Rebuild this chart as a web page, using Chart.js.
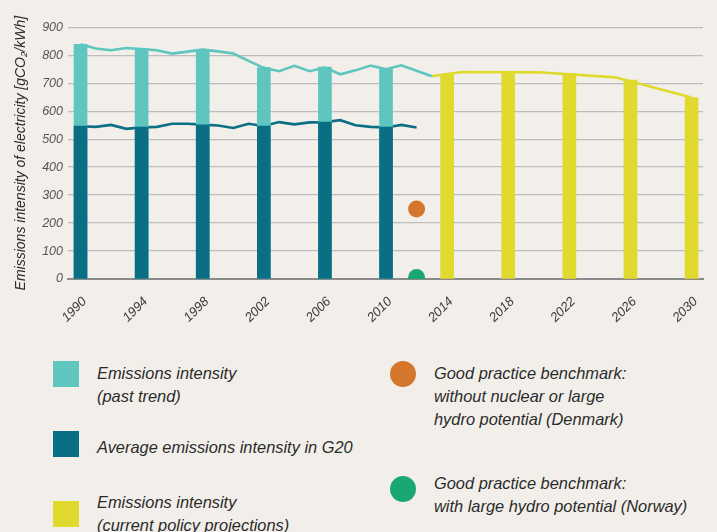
<!DOCTYPE html>
<html>
<head>
<meta charset="utf-8">
<script src="https://cdn.jsdelivr.net/npm/chart.js@4/dist/chart.umd.min.js"></script>
<style>
  html, body { margin: 0; padding: 0; background: #f2efea; width: 717px; height: 532px; overflow: hidden; }
  #wrap { position: relative; width: 717px; height: 532px; }
  #c { position: absolute; left: 0; top: 0; }
  .sw { position: absolute; width: 26px; height: 26px; }
  .dot { position: absolute; width: 26px; height: 26px; border-radius: 50%; }
  .lt { position: absolute; font-family: "Liberation Sans", Arial, sans-serif; font-style: italic; font-size: 16.4px; line-height: 22.7px; color: #2b2b2b; white-space: nowrap; }
</style>
</head>
<body>
<div id="wrap">
  <canvas id="c" width="717" height="340"></canvas>
  <div class="sw" style="left:53px;top:361px;background:#5ec5bf"></div>
  <div class="lt" style="left:97px;top:362px">Emissions intensity<br>(past trend)</div>
  <div class="sw" style="left:53px;top:431px;background:#0a6f84"></div>
  <div class="lt" style="left:97px;top:435.7px">Average emissions intensity in G20</div>
  <div class="sw" style="left:53px;top:501px;background:#e0d92e"></div>
  <div class="lt" style="left:97px;top:491.3px">Emissions intensity<br>(current policy projections)</div>
  <div class="dot" style="left:390px;top:361px;background:#d5762d"></div>
  <div class="lt" style="left:434px;top:362.3px">Good practice benchmark:<br>without nuclear or large<br>hydro potential (Denmark)</div>
  <div class="dot" style="left:390px;top:476px;background:#19a873"></div>
  <div class="lt" style="left:434px;top:472.3px">Good practice benchmark:<br>with large hydro potential (Norway)</div>
</div>
<script>
// ---- data ----
const pastYears = [1990,1991,1992,1993,1994,1995,1996,1997,1998,1999,2000,2001,2002,2003,2004,2005,2006,2007,2008,2009,2010,2011,2013];
const pastTrend = [839,824,818,826,822,818,806,813,820,814,806,780,755,743,762,743,756,732,746,763,750,764,725];
const g20Years = [1990,1991,1992,1993,1994,1995,1996,1997,1998,1999,2000,2001,2002,2003,2004,2005,2006,2007,2008,2009,2010,2011,2012];
const g20Avg = [546,544,551,537,542,544,555,555,552,549,540,555,547,561,553,560,561,568,550,544,542,551,542];
const projYears = [2013,2014,2015,2020,2025,2030];
const projTrend = [725,733,740,739,721,649];
const pastBarYears = [1990,1994,1998,2002,2006,2010];
const pastBarValues = [839,823,821,756,758,750];
const g20BarValues = [547,543,551,547,561,543];
const projBarYears = [2014,2018,2022,2026,2030];
const projBarValues = [731,740,735,711,649];
const benchYear = 2012;
const denmark = 250;
const norway = 5;
const xTickYears = [1990,1994,1998,2002,2006,2010,2014,2018,2022,2026,2030];
const yTicks = [0,100,200,300,400,500,600,700,800,900];

const C_LIGHT = '#5ec5bf', C_DARK = '#0a6f84', C_YEL = '#e0d92e', C_ORA = '#d5762d', C_GRN = '#19a873';
const pts = (xs, ys) => xs.map((x, i) => ({ x: x, y: ys[i] }));
const FONT = '"Liberation Sans", Arial, sans-serif';

new Chart(document.getElementById('c'), {
  type: 'bar',
  data: {
    datasets: [
      { type: 'bar', data: pts(pastBarYears, g20BarValues), backgroundColor: C_DARK, barThickness: 13, grouped: false, order: 1 },
      { type: 'bar', data: pts(pastBarYears, pastBarValues), backgroundColor: C_LIGHT, barThickness: 13, grouped: false, order: 2 },
      { type: 'bar', data: pts(projBarYears, projBarValues), backgroundColor: C_YEL, barThickness: 13, grouped: false, order: 2 },
      { type: 'line', data: pts(pastYears, pastTrend), borderColor: C_LIGHT, borderWidth: 2.6, pointRadius: 0, tension: 0, order: 5 },
      { type: 'line', data: pts(g20Years, g20Avg), borderColor: C_DARK, borderWidth: 2.6, pointRadius: 0, tension: 0, order: 5 },
      { type: 'line', data: pts(projYears, projTrend), borderColor: C_YEL, borderWidth: 2.6, pointRadius: 0, tension: 0, order: 5 },
      { type: 'line', data: [{ x: benchYear, y: denmark }], showLine: false, pointRadius: 8.5, pointBackgroundColor: C_ORA, pointBorderWidth: 0, order: 0 },
      { type: 'line', data: [{ x: benchYear, y: norway }], showLine: false, pointRadius: 8.5, pointBackgroundColor: C_GRN, pointBorderWidth: 0, order: 0 }
    ]
  },
  options: {
    responsive: false,
    animation: false,
    events: [],
    layout: { padding: { top: 27.3, right: 14, left: 0, bottom: 0 } },
    plugins: { legend: { display: false }, tooltip: { enabled: false } },
    scales: {
      x: {
        type: 'linear',
        offset: false,
        min: 1989.18,
        max: 2030.75,
        grid: { display: false, drawTicks: false, offset: false },
        border: { display: true, color: '#8a8a8a', width: 2 },
        afterBuildTicks: s => { s.ticks = xTickYears.map(v => ({ value: v })); },
        afterFit: s => { s.height = 340 - 279; s.paddingLeft = 0; s.paddingRight = 0; },
        ticks: {
          autoSkip: false, minRotation: 45, maxRotation: 45, padding: 15, labelOffset: 4,
          color: '#3a3a3a', font: { family: FONT, style: 'italic', size: 13 },
          callback: v => String(v)
        }
      },
      y: {
        min: 0, max: 900,
        afterBuildTicks: s => { s.ticks = yTicks.map(v => ({ value: v })); },
        afterFit: s => { s.width = 68; },
        grid: { color: '#bdbdbd', lineWidth: 1.3, drawTicks: false },
        border: { display: false },
        ticks: { padding: 5, color: '#555', font: { family: FONT, style: 'italic', size: 12.5 } },
        title: {
          display: true,
          text: 'Emissions intensity of electricity [gCO\u2082/kWh]',
          color: '#2b2b2b',
          font: { family: FONT, style: 'italic', size: 14 },
          padding: { top: 13, bottom: 4 }
        }
      }
    }
  }
});
</script>
</body>
</html>
